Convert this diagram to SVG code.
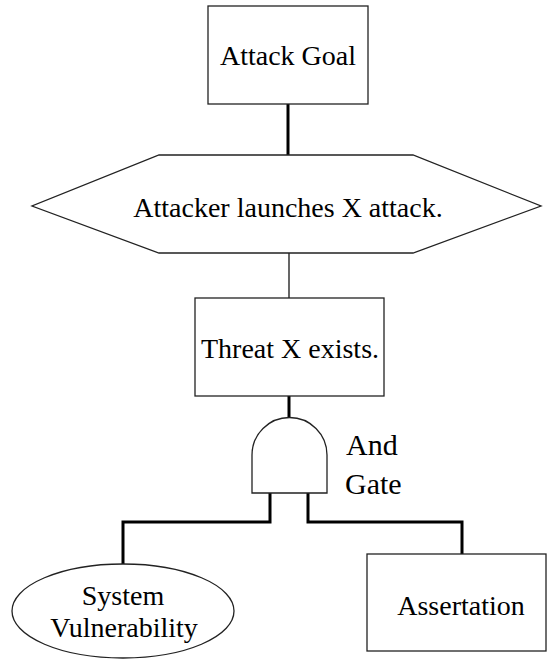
<svg xmlns="http://www.w3.org/2000/svg" width="547" height="659" viewBox="0 0 547 659">
<style>
.shape{fill:#fff;stroke:#222;stroke-width:1.3}
.thick{fill:none;stroke:#000;stroke-width:3}
.thin{fill:none;stroke:#000;stroke-width:1.2}
text{font-family:"Liberation Serif","Times New Roman",serif;font-size:28px;fill:#000;text-anchor:middle}
.big{font-size:30px;text-anchor:start}
</style>
<rect width="547" height="659" fill="#fff"/>
<g id="connectors">
<line class="thick" x1="288" y1="104" x2="288" y2="155"/>
<line class="thin" x1="289" y1="253" x2="289" y2="298"/>
<line class="thick" x1="289" y1="396" x2="289" y2="418"/>
<polyline class="thick" points="270,493 270,522 123,522 123,564"/>
<polyline class="thick" points="308,493 308,522 462,522 462,554"/>
</g>
<g id="attack-goal">
<rect class="shape" x="208" y="6" width="160" height="98"/>
<text x="288" y="65">Attack Goal</text>
</g>
<g id="attacker-launches">
<polygon class="shape" points="159,155 413,155 541,206 413,253 159,253 32,206"/>
<text x="288" y="217">Attacker launches X attack.</text>
</g>
<g id="threat">
<rect class="shape" x="195" y="298" width="189" height="98"/>
<text x="290" y="358">Threat X exists.</text>
</g>
<g id="and-gate">
<path class="shape" d="M252,493 L252,455 A37.5,37.5 0 0 1 327,455 L327,493 Z"/>
<text class="big" x="346" y="455">And</text>
<text class="big" x="345" y="494">Gate</text>
</g>
<g id="system-vulnerability">
<ellipse class="shape" cx="123" cy="611" rx="111" ry="47"/>
<text x="123" y="605">System</text>
<text x="124" y="637">Vulnerability</text>
</g>
<g id="assertation">
<rect class="shape" x="367" y="554" width="179" height="97"/>
<text x="461" y="615">Assertation</text>
</g>
</svg>
